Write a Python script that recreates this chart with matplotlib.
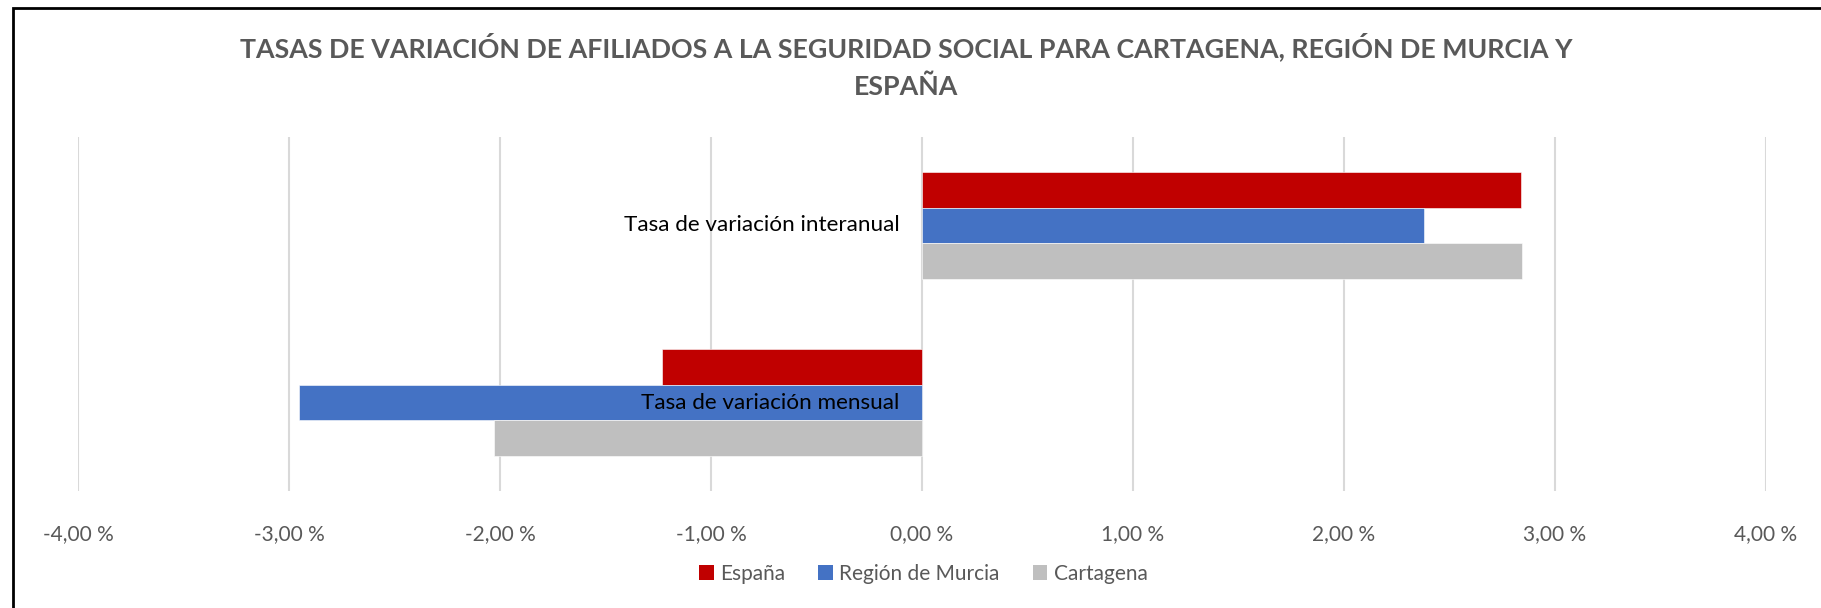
import numpy as np
import matplotlib.pyplot as plt
from matplotlib.patches import Rectangle, Patch
from matplotlib.transforms import offset_copy

# datos (en %)
categorias = ["Tasa de variación mensual", "Tasa de variación interanual"]
series = ["España", "Región de Murcia", "Cartagena"]
espana = [-1.23, 2.84]
murcia = [-2.95, 2.38]
cartagena = [-2.03, 2.845]
colores = ["#C00000", "#4472C4", "#BFBFBF"]
xticks = [-4, -3, -2, -1, 0, 1, 2, 3, 4]
xtick_labels = ["-4,00 %", "-3,00 %", "-2,00 %", "-1,00 %", "0,00 %",
                "1,00 %", "2,00 %", "3,00 %", "4,00 %"]
titulo = ("TASAS DE VARIACIÓN DE AFILIADOS A LA SEGURIDAD SOCIAL PARA CARTAGENA, REGIÓN DE MURCIA Y\n"
          "ESPAÑA")

plt.rcParams['font.family'] = ['Lato', 'DejaVu Sans']
gris = "#595959"

fig = plt.figure(figsize=(18.21, 6.08), dpi=100)
ax = fig.add_axes([0.0428, 0.1924, 0.927, 0.5823])

y = np.arange(len(categorias))
h = 0.203
valores = [espana, murcia, cartagena]
for i, (nombre, vals, col) in enumerate(zip(series, valores, colores)):
    ax.barh(y + (1 - i) * h, vals, height=h, color=col, label=nombre,
            edgecolor="white", linewidth=0.4, zorder=2)

ax.set_xlim(-4, 4)
ax.set_ylim(-0.5, 1.5)
ax.set_xticks(xticks)
ax.set_xticklabels(xtick_labels)
ax.set_yticks([])
ax.grid(axis="x", color="#D9D9D9", linewidth=1.5, zorder=0)
ax.set_axisbelow(True)
for s in ax.spines.values():
    s.set_visible(False)
ax.tick_params(axis="x", length=0, pad=24, labelsize=15, labelcolor=gris)

# etiquetas de categoria junto al eje vertical (x = 0)
trans = offset_copy(ax.transData, fig=fig, x=-16, y=0, units="points")
for yy, cat in zip(y, categorias):
    ax.text(0, yy, cat, transform=trans, ha="right", va="center",
            fontsize=16.2, color="black", zorder=5)

fig.text(0.4975, 0.892, titulo, ha="center", va="center", fontsize=19.3,
         fontweight="bold", color=gris, linespacing=1.65)

handles = [Patch(facecolor=c, edgecolor="none") for c in colores]
leg = fig.legend(handles, series, loc="center", bbox_to_anchor=(0.507, 0.056),
                 ncol=3, frameon=False, fontsize=15, handlelength=0.7,
                 handleheight=0.7, handletextpad=0.3, columnspacing=1.6)
for t in leg.get_texts():
    t.set_color(gris)

# marco del area del grafico
fig.patches.append(Rectangle((13 / 1821, -0.2), 1.2, 1.2 - 8 / 608,
                             transform=fig.transFigure, fill=False,
                             edgecolor="black", linewidth=2))

fig.savefig("out.png", dpi=100)
